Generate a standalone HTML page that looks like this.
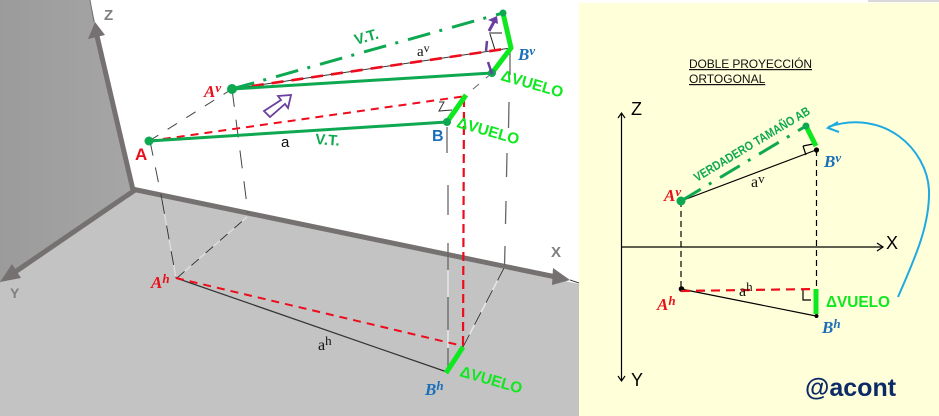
<!DOCTYPE html>
<html>
<head>
<meta charset="utf-8">
<style>
html,body{margin:0;padding:0;background:#fff;width:939px;height:416px;overflow:hidden}
svg{display:block}
text{font-family:"Liberation Sans",sans-serif}
.m{font-family:"Liberation Serif",serif;font-style:italic;font-weight:bold}
.s{font-family:"Liberation Serif",serif}
.b{font-weight:bold}
</style>
</head>
<body>
<svg width="939" height="416" viewBox="0 0 939 416" xmlns="http://www.w3.org/2000/svg">
<defs>
<linearGradient id="w" x1="0" y1="0" x2="1" y2="0"><stop offset="0" stop-color="#9b9b9b"/><stop offset="1" stop-color="#a6a6a6"/></linearGradient>
</defs>
<rect width="939" height="416" fill="#fff"/>
<!-- planes -->
<polygon points="0,0 90,0 133,190 0,283" fill="url(#w)"/>
<polygon points="133,190 579,284 579,416 0,416 0,283" fill="#c3c3c3"/>
<!-- axes -->
<g stroke="#767171" fill="#767171">
<line x1="133" y1="190" x2="97" y2="36" stroke-width="5"/>
<line x1="94" y1="22" x2="90" y2="0" stroke-width="1"/>
<polygon points="88,39 105,35 95,22" stroke="none"/>
<line x1="135" y1="190" x2="15" y2="272" stroke-width="5"/>
<polygon points="12,264 21,278 0,282" stroke="none"/>
<line x1="132" y1="189" x2="556" y2="277" stroke-width="5"/>
<polygon points="553,268 552,285 570,280" stroke="none"/>
<line x1="570" y1="280" x2="579" y2="283" stroke-width="1" stroke="#444"/>
</g>
<text x="104" y="20" font-size="15" class="b" fill="#7f7f7f">Z</text>
<text x="10" y="298" font-size="14" class="b" fill="#7f7f7f">Y</text>
<text x="551" y="257" font-size="15" class="b" fill="#7f7f7f">X</text>
<!-- projection lines -->
<g fill="none" stroke="#444" stroke-width="1">
<line x1="149" y1="141" x2="232" y2="89" stroke-dasharray="11,11"/>
<line x1="150" y1="141" x2="162" y2="200" stroke-dasharray="15,12"/>
<line x1="232" y1="89" x2="248" y2="213" stroke-dasharray="18,13"/>
<polyline points="162,200 176,278" stroke="#ddd" stroke-width="1.4"/>
<line x1="162" y1="200" x2="176" y2="278" stroke="#333" stroke-dasharray="14,12"/>
<line x1="177" y1="278" x2="247" y2="217" stroke="#ddd" stroke-width="1.4"/>
<line x1="177" y1="278" x2="247" y2="217" stroke="#333" stroke-dasharray="10,9"/>
<g stroke="#666" stroke-width="1.3">
<line x1="447" y1="127" x2="447" y2="153"/>
<line x1="448" y1="185" x2="448" y2="215"/>
<line x1="448" y1="243" x2="448" y2="270"/>
<line x1="448" y1="297" x2="448" y2="330"/>
<line x1="448" y1="348" x2="448" y2="372"/>
<line x1="510" y1="50" x2="510" y2="75"/>
<line x1="509" y1="102" x2="508.500" y2="128"/>
<line x1="507" y1="153" x2="506.500" y2="177"/>
<line x1="506" y1="201" x2="505.500" y2="224"/>
<line x1="505" y1="246" x2="504.500" y2="266"/>
</g>
<g stroke="#e6e6e6" stroke-width="1.5">
<line x1="448" y1="270" x2="448" y2="297"/>
<line x1="448" y1="330" x2="448" y2="348"/>
</g>
<line x1="504" y1="268" x2="463" y2="347" stroke="#e6e6e6" stroke-width="1.5"/>
<line x1="504" y1="268" x2="463" y2="347" stroke="#333" stroke-dasharray="14,11"/>
<line x1="492" y1="73" x2="466" y2="95" stroke="#666" stroke-dasharray="8,9"/>
<line x1="176" y1="278" x2="447" y2="372" stroke="#333" stroke-width="1.2"/>
<line x1="232" y1="89" x2="511" y2="48" stroke="#333" stroke-width="1"/>
<polyline points="439,102 444,102 439,111 452,110" stroke="#333" stroke-width="1"/>
<polyline points="489,33 502,33" stroke="#222" stroke-width="1"/>
<polyline points="490,34 495,50" stroke="#222" stroke-width="1"/>
</g>
<!-- red -->
<g fill="none" stroke="#ee0c1c" stroke-width="2">
<line x1="149" y1="141" x2="466" y2="96" stroke-dasharray="8,6"/>
<line x1="232" y1="89" x2="511" y2="48" stroke-width="2.6" stroke-dasharray="12,8"/>
<line x1="176" y1="278" x2="463" y2="346" stroke-dasharray="8,6"/>
<line x1="464" y1="98" x2="463" y2="346" stroke-width="2.2" stroke-dasharray="9,5"/>
</g>
<!-- green -->
<g fill="none" stroke="#0da850">
<line x1="149" y1="141" x2="447" y2="122" stroke-width="3"/>
<line x1="232" y1="89" x2="492" y2="73" stroke-width="3"/>
<line x1="232" y1="89" x2="503" y2="13" stroke-width="3" stroke-dasharray="23,9.500,3,10.200"/>
</g>
<g fill="none" stroke="#0ee81e" stroke-width="5" stroke-linejoin="round">
<polyline points="492,73 511,48 503,13"/>
<line x1="447" y1="122" x2="466" y2="95"/>
<line x1="446" y1="373" x2="463" y2="347"/>
</g>
<g fill="#0da850">
<circle cx="149" cy="141" r="4.5"/><circle cx="232" cy="89" r="5"/><circle cx="447" cy="122" r="4"/><circle cx="492" cy="73" r="4"/><circle cx="503" cy="13" r="3.500"/>
</g>
<!-- purple -->
<polygon points="264,111 281,100 278,96 291,95 288,108 285,104 270,117" fill="#fff" stroke="#6b3fa0" stroke-width="1.800"/>
<g stroke="#6b3fa0" fill="#6b3fa0">
<line x1="487" y1="41" x2="486" y2="51" stroke-width="2.500"/>
<line x1="488" y1="62" x2="492" y2="74" stroke-width="2.500"/>
<line x1="489" y1="31" x2="495" y2="20" stroke-width="3"/>
<polygon points="488,20 498,24 497,16" stroke="none"/>
</g>
<!-- left labels -->
<text x="204" y="97" font-size="17" class="m" fill="#e8101c">A<tspan font-size="13" dy="-5">v</tspan></text>
<text x="135" y="160" font-size="17" class="b" fill="#e8101c">A</text>
<text x="151" y="288" font-size="17" class="m" fill="#e8101c">A<tspan font-size="13" dy="-5">h</tspan></text>
<text x="518" y="60" font-size="17" class="m" fill="#1a6fb8">B<tspan font-size="13" dy="-5">v</tspan></text>
<text x="432" y="141" font-size="16" class="b" fill="#1a6fb8">B</text>
<text x="425" y="395" font-size="17" class="m" fill="#1a6fb8">B<tspan font-size="13" dy="-5">h</tspan></text>
<text x="281" y="147" font-size="15" fill="#111">a</text>
<text x="417" y="56" font-size="15" class="s" fill="#111">a<tspan font-size="12" dy="-4">v</tspan></text>
<text x="318" y="350" font-size="16" class="s" fill="#111">a<tspan font-size="13" dy="-5">h</tspan></text>
<text transform="translate(356,45) rotate(-16)" font-size="15" class="b" fill="#0da850">V.T.</text>
<text transform="translate(315,144) rotate(4)" font-size="15" class="b" fill="#0da850">V.T.</text>
<text transform="translate(500,80) rotate(16)" font-size="15.500" class="b" fill="#0ee81e" textLength="64" lengthAdjust="spacingAndGlyphs">ΔVUELO</text>
<text transform="translate(456,127) rotate(16)" font-size="15.500" class="b" fill="#0ee81e" textLength="64" lengthAdjust="spacingAndGlyphs">ΔVUELO</text>
<text transform="translate(459,376) rotate(16)" font-size="15.500" class="b" fill="#0ee81e" textLength="64" lengthAdjust="spacingAndGlyphs">ΔVUELO</text>

<!-- right panel -->
<rect x="579" y="3" width="360" height="413" fill="#ffffd9"/>
<rect x="868" y="0" width="71" height="2" fill="#d9d9d9"/>
<text x="689" y="68" font-size="12" fill="#111" text-decoration="underline" textLength="123">DOBLE PROYECCIÓN</text>
<text x="689" y="83" font-size="12" fill="#111" text-decoration="underline">ORTOGONAL</text>
<g fill="none" stroke="#000" stroke-width="1.200">
<line x1="621.500" y1="113" x2="621.500" y2="381"/>
<polyline points="618,118 621.500,113 625,118"/>
<polyline points="618,376 621.500,381 625,376"/>
<line x1="621" y1="247" x2="883" y2="247"/>
<polyline points="877,243 883,247 877,251"/>
<line x1="681" y1="201" x2="816" y2="150"/>
<line x1="681" y1="289" x2="816" y2="316"/>
<line x1="681" y1="201" x2="681" y2="289" stroke-dasharray="6,4"/>
<line x1="816.500" y1="150" x2="816.500" y2="290" stroke-dasharray="6,4"/>
<polyline points="803,146 806,155"/>
<polyline points="803,146 813,144"/>
<polyline points="803,290 803,300 811,300"/>
</g>
<text x="631" y="115" font-size="18" fill="#000">Z</text>
<text x="886" y="249" font-size="18" fill="#000">X</text>
<text x="631" y="386" font-size="18" fill="#000">Y</text>
<line x1="681" y1="201" x2="806" y2="126" stroke="#0da850" stroke-width="3" stroke-dasharray="23,9.500,3,10"/>
<polyline points="806,126 816,146" fill="none" stroke="#0ee81e" stroke-width="5"/>
<circle cx="806" cy="126" r="3.500" fill="#0da850"/>
<circle cx="681" cy="201" r="4.500" fill="#0da850"/>
<circle cx="816.500" cy="150" r="2.600" fill="#000"/>
<circle cx="681.500" cy="289" r="2.800" fill="#000"/>
<circle cx="816.500" cy="316" r="2" fill="#000"/>
<line x1="681" y1="291" x2="816" y2="289" stroke="#ee0c1c" stroke-width="2.200" stroke-dasharray="9,6"/>
<line x1="816" y1="289" x2="816" y2="314" stroke="#0ee81e" stroke-width="5"/>
<path d="M898,297 C915,258 930,225 929,190 C927,150 885,108 828,127" fill="none" stroke="#1eaae2" stroke-width="2"/>
<polyline points="838,122 828,128 839,132" fill="none" stroke="#1eaae2" stroke-width="2"/>
<text transform="translate(697,182) rotate(-31)" font-size="12.500" class="b" fill="#0da850" textLength="133" lengthAdjust="spacingAndGlyphs">VERDADERO TAMAÑO AB</text>
<text x="664" y="201" font-size="17" class="m" fill="#e8101c">A<tspan font-size="13" dy="-5">v</tspan></text>
<text x="657" y="310" font-size="17" class="m" fill="#e8101c">A<tspan font-size="13" dy="-5">h</tspan></text>
<text x="824" y="167" font-size="17" class="m" fill="#1a6fb8">B<tspan font-size="13" dy="-5">v</tspan></text>
<text x="822" y="333" font-size="17" class="m" fill="#1a6fb8">B<tspan font-size="13" dy="-5">h</tspan></text>
<text x="751" y="187" font-size="16" class="s" fill="#111">a<tspan font-size="13" dy="-4">v</tspan></text>
<text x="739" y="296" font-size="16" class="s" fill="#111">a<tspan font-size="13" dy="-5">h</tspan></text>
<text x="826" y="307" font-size="16" class="b" fill="#0ee81e" textLength="64" lengthAdjust="spacingAndGlyphs">ΔVUELO</text>
<text x="805" y="396" font-size="25" class="b" fill="#0b2a66">@acont</text>
</svg>
</body>
</html>
